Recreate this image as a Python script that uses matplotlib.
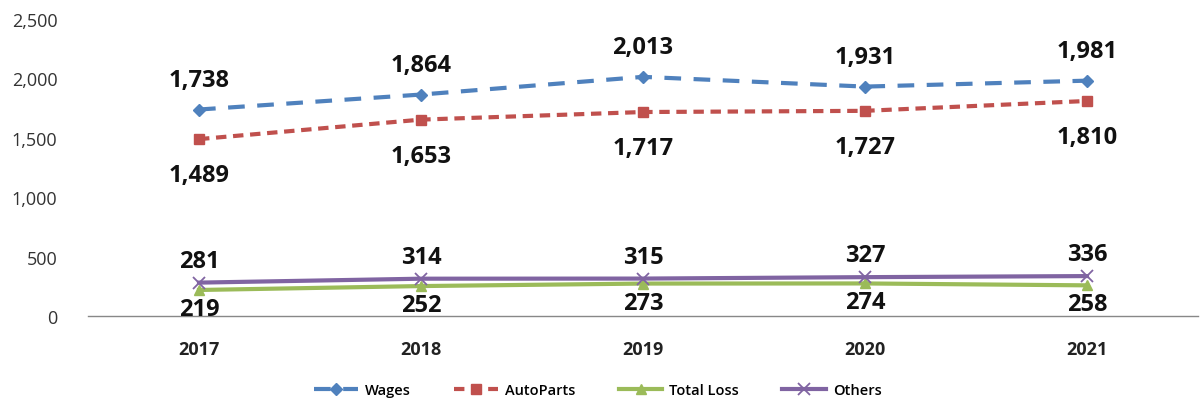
import numpy as np
import matplotlib.pyplot as plt

years = ["2017", "2018", "2019", "2020", "2021"]
wages = [1738, 1864, 2013, 1931, 1981]
autoparts = [1489, 1653, 1717, 1727, 1810]
total_loss = [219, 252, 273, 274, 258]
others = [281, 314, 315, 327, 336]

plt.rcParams['font.family'] = ['Open Sans', 'DejaVu Sans']

fig = plt.figure(figsize=(12.03, 4.02), dpi=100)
ax = fig.add_axes([88/1203, 1-317/402, (1198-88)/1203, (317-20)/402])

x = np.arange(len(years))

# (values, label, colour, marker, size, dashes, label offset in px)
series = [
    (wages, "Wages", "#4F81BD", "D", 6.5, (4, 3), 30),
    (autoparts, "AutoParts", "#C0504D", "s", 7, (2.5, 1.6), -36),
    (total_loss, "Total Loss", "#9BBB59", "^", 7, None, -19),
    (others, "Others", "#8064A2", "x", 8, None, 22),
]

for vals, name, col, mk, ms, dash, off in series:
    kw = dict(color=col, lw=3, marker=mk, markersize=ms,
              markeredgewidth=1 if mk != "x" else 1.3, label=name)
    if dash is not None:
        kw["dashes"] = dash
    ax.plot(x, vals, **kw)
    for xi, v in zip(x, vals):
        ax.annotate(f"{v:,}", (xi, v), xytext=(0, off * 0.72), textcoords="offset points",
                    ha="center", va="center", fontsize=17, fontweight="bold", color="#111111")

ax.set_xlim(-0.5, len(years) - 0.5)
ax.set_ylim(0, 2500)
ax.set_yticks([0, 500, 1000, 1500, 2000, 2500])
ax.set_yticklabels([f"{t:,}" for t in [0, 500, 1000, 1500, 2000, 2500]])
ax.set_xticks(x)
ax.set_xticklabels(years, fontweight="bold")
ax.tick_params(axis="y", length=0, pad=22, labelsize=13, labelcolor="#333333")
ax.tick_params(axis="x", length=0, pad=17, labelsize=13, labelcolor="#222222")
for s in ["top", "right", "left"]:
    ax.spines[s].set_visible(False)
ax.spines["bottom"].set_color("#888888")
ax.spines["bottom"].set_linewidth(1)

fig.legend(loc="center", bbox_to_anchor=(0.497, 1-391/402), ncol=4, frameon=False,
           prop={"weight": "semibold", "size": 10.5}, handlelength=3.0,
           handletextpad=0.45, columnspacing=3.0)

fig.savefig("out.png", dpi=100)
